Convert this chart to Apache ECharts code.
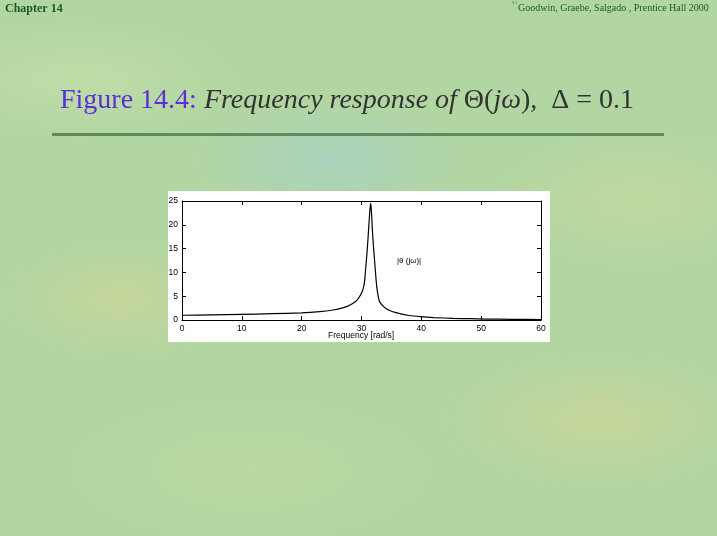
<!DOCTYPE html>
<html>
<head>
<meta charset="utf-8">
<script src="https://cdn.jsdelivr.net/npm/echarts@6/dist/echarts.min.js"></script>
<style>
html,body{margin:0;padding:0;width:717px;height:536px;overflow:hidden;}
body{
  background:
    radial-gradient(ellipse 120px 60px at 120px 300px, rgba(215,215,150,0.55), rgba(215,215,150,0) 100%),
    radial-gradient(ellipse 160px 70px at 600px 420px, rgba(220,215,150,0.5), rgba(220,215,150,0) 100%),
    radial-gradient(ellipse 140px 60px at 330px 160px, rgba(160,205,215,0.5), rgba(160,205,215,0) 100%),
    radial-gradient(ellipse 200px 80px at 250px 470px, rgba(190,220,160,0.6), rgba(190,220,160,0) 100%),
    radial-gradient(ellipse 150px 70px at 640px 200px, rgba(205,220,160,0.55), rgba(205,220,160,0) 100%),
    radial-gradient(ellipse 160px 60px at 80px 80px, rgba(200,225,170,0.6), rgba(200,225,170,0) 100%),
    #b2d6a2;
}
#chart{position:absolute;left:0;top:0;width:717px;height:536px;}
</style>
</head>
<body>
<div id="chart"></div>
<script>
// Data
var freq = [0,5,10,15,20,23,25,27,28,29,29.5,30,30.3,30.5,30.8,31,31.2,31.4,31.55,31.7,31.8,32,32.2,32.4,32.6,33,33.7,34.5,35.9,38,39.8,42,45.3,48,51,55,60];
var mag  = [1.0,1.07,1.18,1.32,1.5,1.75,2.05,2.6,3.1,3.9,4.6,5.6,6.7,8.0,12.3,15.5,19.3,23,24.5,22,19.3,15.5,12.3,9,6.5,3.9,2.8,2.1,1.5,0.95,0.7,0.5,0.35,0.27,0.2,0.15,0.1];
var xTicks = [0,10,20,30,40,50,60];
var yTicks = [0,5,10,15,20,25];

var pts = freq.map(function(f,i){return [f,mag[i]];});
var chart = echarts.init(document.getElementById('chart'), null, {renderer:'canvas'});
var axFont = {fontFamily:'Liberation Sans, Arial, sans-serif', fontSize:8.5, color:'#000'};
function mkX(pos, labels){
  return {type:'value', min:0, max:60, interval:10, position:pos,
    axisLine:{show:true, onZero:false, lineStyle:{color:'#000', width:1}},
    axisTick:{show:true, inside:true, length:4, lineStyle:{color:'#000'}},
    axisLabel: labels ? Object.assign({margin:4, formatter:function(v){return xTicks.indexOf(v)>=0?String(v):'';}}, axFont) : {show:false},
    splitLine:{show:false}};
}
function mkY(pos, labels){
  return {type:'value', min:0, max:25, interval:5, position:pos,
    axisLine:{show:true, onZero:false, lineStyle:{color:'#000', width:1}},
    axisTick:{show:true, inside:true, length:4, lineStyle:{color:'#000'}},
    axisLabel: labels ? Object.assign({margin:4, formatter:function(v){return yTicks.indexOf(v)>=0?String(v):'';}}, axFont) : {show:false},
    splitLine:{show:false}};
}
chart.setOption({
  animation:false,
  backgroundColor:'transparent',
  graphic:[
    {type:'rect', z:-10, shape:{x:168,y:191,width:382,height:151}, style:{fill:'#ffffff'}},
    {type:'rect', z:-10, shape:{x:52,y:133,width:612,height:3}, style:{fill:'#5e8a60'}},
    {type:'text', left:5, top:3, style:{text:'Chapter 14', font:'bold 12px "Liberation Serif", serif', fill:'#1b5a2a'}},
    {type:'text', left:512, top:0, style:{text:'©', font:'7px "Liberation Serif", serif', fill:'#1b5a2a'}},
    {type:'text', left:518, top:3, style:{text:'Goodwin, Graebe, Salgado , Prentice Hall 2000', font:'10px "Liberation Serif", serif', fill:'#1b5a2a'}},
    {type:'text', left:60, top:87, style:{
      text:'{a|Figure 14.4:\u00a0}{b|Frequency response of }{c|Θ(}{b|jω}{c|),  Δ = 0.1}',
      rich:{
        a:{font:'28px "Liberation Serif", serif', fill:'#5b2ed6', color:'#5b2ed6'},
        b:{font:'italic 28px "Liberation Serif", serif', fill:'#333333', color:'#333333'},
        c:{font:'28px "Liberation Serif", serif', fill:'#333333', color:'#333333'}
      }
    }},
    {type:'text', left:397, top:257, style:{text:'|θ (jω)|', font:'8px "Liberation Sans", Arial, sans-serif', fill:'#000'}},
    {type:'text', left:328, top:331, style:{text:'Frequency [rad/s]', font:'8.5px "Liberation Sans", Arial, sans-serif', fill:'#000'}}
  ],
  grid:{left:182, right:176, top:201, bottom:216},
  xAxis:[mkX('bottom', true), mkX('top', false)],
  yAxis:[mkY('left', true), mkY('right', false)],
  series:[
    {type:'line', data:pts, xAxisIndex:0, yAxisIndex:0, showSymbol:false, smooth:0.2,
     lineStyle:{color:'#000', width:1.2}},
    {type:'line', data:[], xAxisIndex:1, yAxisIndex:1, showSymbol:false}
  ]
});
</script>
</body>
</html>
